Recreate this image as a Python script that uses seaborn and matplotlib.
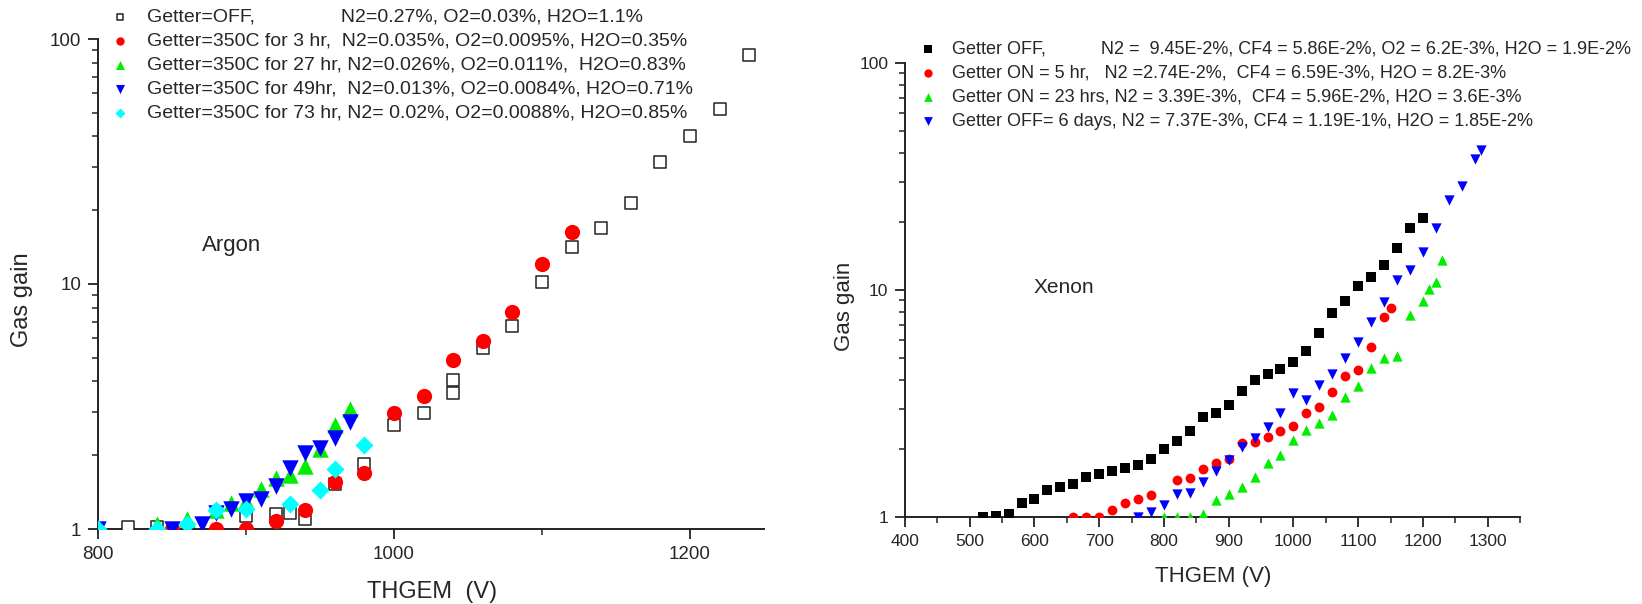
import numpy as np
import pandas as pd
import matplotlib
matplotlib.use("Agg")
import matplotlib.pyplot as plt
import matplotlib.ticker as mticker
import seaborn as sns

# ---------------- data ----------------
# Argon
ar_off_v = [820, 840, 900, 920, 930, 940, 960, 980, 1000, 1020, 1040, 1040, 1060, 1080,
            1100, 1120, 1140, 1160, 1180, 1200, 1220, 1240]
ar_off_g = [1.02, 1.02, 1.13, 1.15, 1.16, 1.1, 1.53, 1.84, 2.67, 2.98, 3.58, 4.06, 5.46, 6.76,
            10.2, 14.2, 17.0, 21.5, 31.5, 40.0, 52.0, 86.0]
ar_3hr_v = [850, 880, 900, 920, 940, 960, 980, 1000, 1020, 1040, 1060, 1080, 1100, 1120]
ar_3hr_g = [1.0, 1.0, 1.0, 1.08, 1.2, 1.56, 1.69, 2.97, 3.49, 4.9, 5.87, 7.7, 12.1, 16.3]
ar_27hr_v = [840, 860, 880, 890, 900, 910, 920, 930, 940, 950, 960, 970]
ar_27hr_g = [1.05, 1.1, 1.2, 1.28, 1.3, 1.45, 1.62, 1.66, 1.8, 2.12, 2.66, 3.08]
ar_49hr_v = [800, 850, 870, 880, 890, 900, 910, 920, 930, 940, 950, 960, 970]
ar_49hr_g = [1.0, 1.0, 1.05, 1.16, 1.21, 1.3, 1.32, 1.5, 1.78, 2.04, 2.15, 2.35, 2.74]
ar_73hr_v = [800, 840, 860, 880, 900, 930, 950, 960, 980]
ar_73hr_g = [1.0, 1.0, 1.05, 1.2, 1.21, 1.27, 1.44, 1.75, 2.2]

ar_labels = [
    "Getter=OFF,                N2=0.27%, O2=0.03%, H2O=1.1%",
    "Getter=350C for 3 hr,  N2=0.035%, O2=0.0095%, H2O=0.35%",
    "Getter=350C for 27 hr, N2=0.026%, O2=0.011%,  H2O=0.83%",
    "Getter=350C for 49hr,  N2=0.013%, O2=0.0084%, H2O=0.71%",
    "Getter=350C for 73 hr, N2= 0.02%, O2=0.0088%, H2O=0.85%",
]

# Xenon
xe_off_v = [520, 540, 560, 580, 600, 620, 640, 660, 680, 700, 720, 740, 760, 780, 800, 820,
            840, 860, 880, 900, 920, 940, 960, 980, 1000, 1020, 1040, 1060, 1080, 1100,
            1120, 1140, 1160, 1180, 1200]
xe_off_g = [1.0, 1.01, 1.03, 1.15, 1.2, 1.32, 1.35, 1.4, 1.5, 1.55, 1.59, 1.65, 1.69, 1.8,
            1.99, 2.16, 2.4, 2.75, 2.86, 3.11, 3.6, 4.03, 4.25, 4.47, 4.82, 5.39, 6.44, 7.94,
            8.97, 10.4, 11.4, 12.9, 15.3, 18.7, 20.8]
xe_5hr_v = [660, 680, 700, 720, 740, 760, 780, 820, 840, 860, 880, 900, 920, 940, 960, 980,
            1000, 1020, 1040, 1060, 1080, 1100, 1120, 1140, 1150]
xe_5hr_g = [1.0, 1.0, 1.0, 1.07, 1.15, 1.2, 1.25, 1.46, 1.48, 1.63, 1.73, 1.81, 2.12, 2.14,
            2.24, 2.4, 2.52, 2.86, 3.06, 3.54, 4.19, 4.44, 5.63, 7.63, 8.36]
xe_23hr_v = [800, 820, 840, 860, 880, 900, 920, 940, 960, 980, 1000, 1020, 1040, 1060, 1080,
             1100, 1120, 1140, 1160, 1180, 1200, 1210, 1220, 1230]
xe_23hr_g = [1.0, 1.0, 1.0, 1.03, 1.19, 1.26, 1.36, 1.5, 1.73, 1.88, 2.18, 2.42, 2.59, 2.81,
             3.39, 3.78, 4.52, 5.03, 5.13, 7.76, 8.95, 10.1, 10.8, 13.6]
xe_6d_v = [760, 780, 800, 820, 840, 860, 880, 900, 920, 940, 960, 980, 1000, 1020, 1040, 1060,
           1080, 1100, 1120, 1140, 1160, 1180, 1200, 1220, 1240, 1260, 1280, 1290]
xe_6d_g = [1.0, 1.05, 1.13, 1.26, 1.27, 1.43, 1.6, 1.79, 2.04, 2.23, 2.5, 2.86, 3.51, 3.28,
           3.82, 4.28, 5.0, 5.92, 7.25, 8.88, 11.1, 12.2, 14.7, 18.7, 24.9, 28.7, 37.7, 41.4]

xe_labels = [
    "Getter OFF,           N2 =  9.45E-2%, CF4 = 5.86E-2%, O2 = 6.2E-3%, H2O = 1.9E-2%",
    "Getter ON = 5 hr,   N2 =2.74E-2%,  CF4 = 6.59E-3%, H2O = 8.2E-3%",
    "Getter ON = 23 hrs, N2 = 3.39E-3%,  CF4 = 5.96E-2%, H2O = 3.6E-3%",
    "Getter OFF= 6 days, N2 = 7.37E-3%, CF4 = 1.19E-1%, H2O = 1.85E-2%",
]

# ---------------- style ----------------
sns.set_theme(style="ticks")
plt.rcParams["font.family"] = ["Liberation Sans", "DejaVu Sans"]

fig = plt.figure(figsize=(16.42, 6.04), dpi=100)
axL = fig.add_axes([98 / 1642, 1 - 529 / 604, 666 / 1642, 490 / 604])
axR = fig.add_axes([905 / 1642, 1 - 517 / 604, 615 / 1642, 454 / 604])

RED, GREEN, BLUE, CYAN = "#ff0000", "#00ee00", "#0000ff", "#00ffff"

# ---- Argon ----
sns.scatterplot(x=ar_off_v, y=ar_off_g, ax=axL, marker="s", s=80, color="white",
                edgecolor="#222222", linewidth=1.1, label=ar_labels[0], zorder=3)
sns.scatterplot(x=ar_3hr_v, y=ar_3hr_g, ax=axL, marker="o", s=120, color=RED,
                edgecolor=RED, linewidth=0, label=ar_labels[1], zorder=4)
sns.scatterplot(x=ar_27hr_v, y=ar_27hr_g, ax=axL, marker="^", s=140, color=GREEN,
                edgecolor=GREEN, linewidth=0, label=ar_labels[2], zorder=5)
sns.scatterplot(x=ar_49hr_v, y=ar_49hr_g, ax=axL, marker="v", s=140, color=BLUE,
                edgecolor=BLUE, linewidth=0, label=ar_labels[3], zorder=6)
sns.scatterplot(x=ar_73hr_v, y=ar_73hr_g, ax=axL, marker="D", s=85, color=CYAN,
                edgecolor=CYAN, linewidth=0, label=ar_labels[4], zorder=7)

# ---- Xenon ----
sns.scatterplot(x=xe_off_v, y=xe_off_g, ax=axR, marker="s", s=42, color="black",
                edgecolor="black", linewidth=0, label=xe_labels[0], zorder=3)
sns.scatterplot(x=xe_5hr_v, y=xe_5hr_g, ax=axR, marker="o", s=50, color=RED,
                edgecolor=RED, linewidth=0, label=xe_labels[1], zorder=4)
sns.scatterplot(x=xe_23hr_v, y=xe_23hr_g, ax=axR, marker="^", s=55, color=GREEN,
                edgecolor=GREEN, linewidth=0, label=xe_labels[2], zorder=5)
sns.scatterplot(x=xe_6d_v, y=xe_6d_g, ax=axR, marker="v", s=55, color=BLUE,
                edgecolor=BLUE, linewidth=0, label=xe_labels[3], zorder=6)

fmt = mticker.FuncFormatter(lambda v, _: f"{v:g}")
for ax in (axL, axR):
    ax.set_yscale("log")
    ax.set_ylim(1, 100)
    ax.yaxis.set_major_locator(mticker.LogLocator(base=10, numticks=5))
    ax.yaxis.set_minor_locator(mticker.LogLocator(base=10, subs=np.arange(2, 10), numticks=5))
    ax.yaxis.set_major_formatter(fmt)
    ax.yaxis.set_minor_formatter(mticker.NullFormatter())
    for side in ("top", "right"):
        ax.spines[side].set_visible(False)
    for side in ("left", "bottom"):
        ax.spines[side].set_color("#222222")
        ax.spines[side].set_linewidth(1.4)
    ax.tick_params(which="major", direction="out", length=7, width=1.3, color="#222222")
    ax.tick_params(which="minor", direction="out", length=4, width=1.1, color="#222222")
    ax.set_facecolor("white")

axL.set_xlim(800, 1250)
axL.xaxis.set_major_locator(mticker.MultipleLocator(200))
axL.xaxis.set_minor_locator(mticker.MultipleLocator(100))
axL.tick_params(axis="both", which="major", labelsize=13.5, pad=5)

axR.set_xlim(400, 1350)
axR.xaxis.set_major_locator(mticker.MultipleLocator(100))
axR.xaxis.set_minor_locator(mticker.MultipleLocator(50))
axR.tick_params(axis="both", which="major", labelsize=12.5, pad=5)

# axis labels
axL.set_xlabel("THGEM  (V)", fontsize=17, va="center")
axL.xaxis.set_label_coords(0.5015, -0.128)
axL.set_ylabel("Gas gain", fontsize=17, va="center")
axL.yaxis.set_label_coords(-0.114, 0.467)
axR.set_xlabel("THGEM (V)", fontsize=16, va="center")
axR.xaxis.set_label_coords(0.501, -0.132)
axR.set_ylabel("Gas gain", fontsize=16, va="center")
axR.yaxis.set_label_coords(-0.099, 0.463)

axL.text(870, 14.3, "Argon", fontsize=16, va="center", ha="left")
axR.text(598, 10.3, "Xenon", fontsize=15, va="center", ha="left")

# legends
axL.legend(loc="upper left", bbox_to_anchor=(111 / 1642, 1 - 8 / 604),
           bbox_transform=fig.transFigure, frameon=False, fontsize=14,
           borderpad=0, borderaxespad=0, handlelength=0.9, handletextpad=0.95,
           labelspacing=0.33, markerscale=0.55)
axR.legend(loc="upper left", bbox_to_anchor=(920 / 1642, 1 - 41 / 604),
           bbox_transform=fig.transFigure, frameon=False, fontsize=13,
           borderpad=0, borderaxespad=0, handlelength=0.9, handletextpad=0.9,
           labelspacing=0.38, markerscale=0.85)

fig.savefig("out.png", dpi=100, facecolor="white")
